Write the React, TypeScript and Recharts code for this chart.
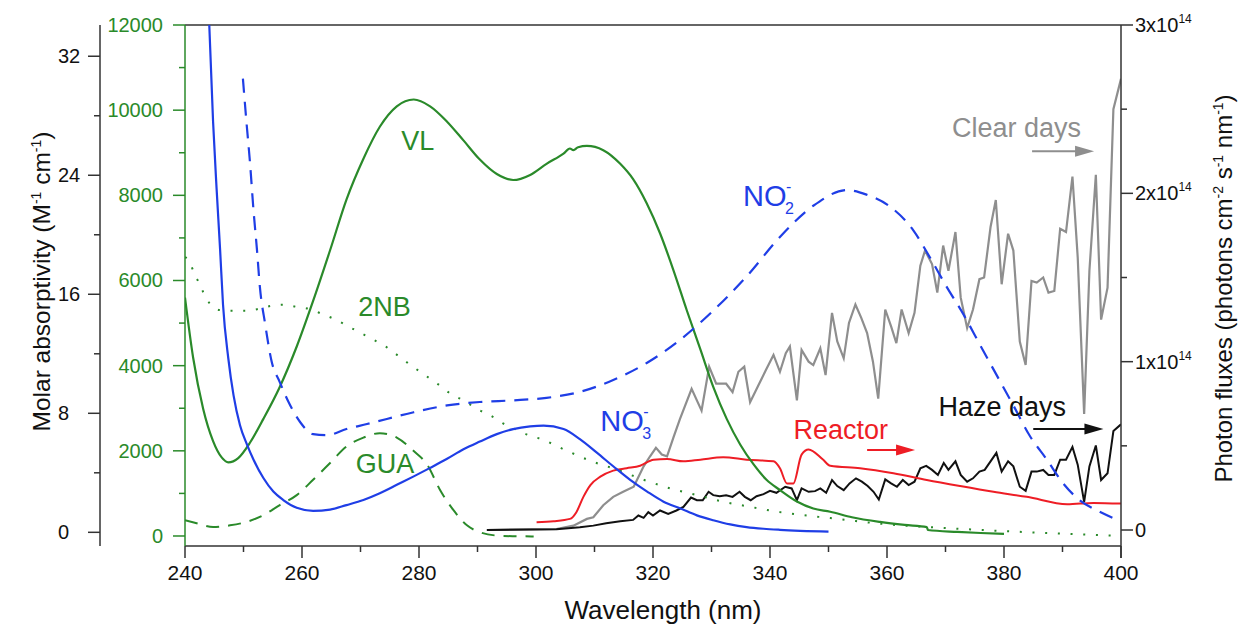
import React from 'react';
import { LineChart, Line, XAxis, YAxis, ReferenceLine, ReferenceDot } from 'recharts';

const FONT = '"Liberation Sans", Arial, Helvetica, sans-serif';
const GREEN = '#2a8a2a';
const BLUE = '#1f3ee6';
const RED = '#ee1d25';
const GRAY = '#8e8e8e';
const INK = '#111111';
const AXIS = '#333333';

// axis ids (the green one sits next to the plot, the black one further out)
const GREEN_AXIS = 'aGreen';
const ABS_AXIS = 'bAbs';
const FLUX_AXIS = 'cFlux';

// ticks
const wavelengthTicks = [240, 250, 260, 270, 280, 290, 300, 310, 320, 330, 340, 350, 360, 370, 380, 390, 400];
const absorptivityTicks = [0, 4, 8, 12, 16, 20, 24, 28, 32];
const greenTicks = [0, 1000, 2000, 3000, 4000, 5000, 6000, 7000, 8000, 9000, 10000, 11000, 12000];
const fluxTicks = [0, 0.5, 1, 1.5, 2, 2.5, 3];

type Pt = [number, number];

// molar absorptivity (green axis, M-1 cm-1)
const vl: Pt[] = [
  [240, 5600], [241.4, 4180], [243.1, 2990], [244.8, 2230], [246.3, 1840], [247.4, 1730], [249.1, 1830],
  [251.1, 2190], [253.4, 2750], [256.2, 3500], [259.1, 4450], [261.9, 5520], [264.8, 6710], [267.6, 7900],
  [270.5, 8860], [273.3, 9610], [276.2, 10090], [279.1, 10250], [281.9, 10090], [284.8, 9730], [287.6, 9290],
  [290.4, 8840], [293.3, 8500], [296.1, 8360], [299, 8480], [301.8, 8740], [304.7, 8980], [305.8, 9100],
  [306.4, 9060], [307.2, 9130], [308.7, 9160], [311.5, 9060], [314.4, 8740], [316.6, 8380], [318.9, 7820],
  [321.2, 7110], [323.5, 6240], [325.8, 5290], [328.1, 4380], [330.3, 3500], [332.6, 2750], [334.9, 2150],
  [337.2, 1680], [339.4, 1320], [341.7, 1080], [344.6, 810], [347.4, 645], [350.3, 570], [354, 440],
  [358.8, 330], [363, 260], [366.8, 210], [367, 140], [372, 95], [376, 70], [380, 50],
];
const gua: Pt[] = [
  [240, 370], [242, 300], [244.8, 210], [247.7, 250], [250.5, 330], [253.4, 490], [256.2, 725], [259.1, 960],
  [261.9, 1320], [264.8, 1715], [267.6, 2100], [270.5, 2310], [273.3, 2415], [276.2, 2310], [279.1, 1995],
  [281.4, 1675], [283.6, 1080], [285.9, 605], [288.2, 250], [290.4, 90], [293.3, 10], [296.1, -5], [299.6, -10],
];
const nb2: Pt[] = [
  [240, 6550], [240.6, 6480], [241.5, 6200], [242.6, 5880], [243.7, 5565], [245.9, 5305], [248, 5290],
  [250.3, 5290], [252.5, 5330], [254.7, 5405], [256.9, 5430], [259.1, 5380], [261.3, 5330], [263.5, 5210],
  [265.6, 5090], [267.8, 4930], [270, 4770], [272.2, 4610], [274.5, 4430], [276.6, 4215], [278.9, 3980],
  [281, 3780], [283.3, 3560], [285.4, 3340], [287.6, 3185], [289.9, 2985], [292.2, 2830], [294.3, 2650],
  [296.4, 2510], [298.7, 2370], [301, 2270], [305.3, 2000], [309.5, 1755], [313.8, 1560], [318.4, 1320],
  [322.9, 1120], [327.5, 960], [332, 805], [336.6, 685], [341.2, 570], [345.7, 490], [350.3, 420],
  [358.8, 290], [370.2, 185], [381.6, 105], [390, 55], [398.7, 10], [400, 5],
];

// molar absorptivity (black axis, M-1 cm-1)
const no3: Pt[] = [
  [244.1, 34.6], [244.8, 27.6], [245.4, 23.1], [246, 19.0], [246.5, 15.3], [247.4, 11.7], [248.3, 9.2],
  [249.4, 7.2], [250.6, 5.9], [251.7, 4.9], [253.4, 3.65], [255.1, 2.74], [256.8, 2.17], [259.1, 1.65],
  [261.9, 1.44], [264.8, 1.53], [267.6, 1.83], [270.5, 2.17], [273.3, 2.62], [276.2, 3.19], [279.1, 3.76],
  [281.9, 4.33], [284.8, 4.94], [287.6, 5.58], [290.4, 6.1], [293.3, 6.6], [296.1, 6.94], [299, 7.12],
  [301.3, 7.17], [304.7, 6.94], [307.5, 6.26], [310.4, 5.35], [313.2, 4.44], [316.1, 3.53], [319, 2.74],
  [321.8, 2.06], [324.7, 1.6], [327.5, 1.14], [330.3, 0.81], [333.2, 0.53], [336, 0.35], [338.9, 0.24],
  [341.7, 0.17], [350, 0.05],
];
const no2: Pt[] = [
  [249.9, 30.5], [250.5, 27.6], [251.1, 24.9], [251.7, 21.7], [252.3, 19.0], [252.8, 16.5], [253.7, 14.0],
  [254.8, 11.5], [256.2, 10.1], [257.7, 8.76], [259.7, 7.4], [261.9, 6.6], [264.2, 6.53], [267.6, 6.94],
  [271.1, 7.28], [274.5, 7.62], [279.1, 8.07], [284.8, 8.53], [290.4, 8.76], [296.1, 8.87], [301.8, 9.04],
  [307.5, 9.44], [313.2, 10.24], [319, 11.4], [324.7, 12.96], [330.3, 14.9], [336, 17.2], [341.7, 19.85],
  [347.4, 21.95], [353.1, 23.0], [356.5, 22.7], [360.5, 21.9], [364.5, 20.3], [367.3, 18.5], [370.2, 16.5],
  [373, 14.7], [375.9, 12.6], [378.7, 10.6], [381.6, 8.53], [384.4, 6.49], [387.3, 4.9], [390.1, 3.3],
  [392.9, 2.17], [395.8, 1.49], [399.3, 0.85],
];

// photon fluxes (x10^14 photons cm-2 s-1 nm-1)
const clearDays: Pt[] = [
  [291.6, 0.0], [303.5, 0.006], [306.4, 0.026], [308.7, 0.066], [309.8, 0.076], [311.5, 0.147], [313.2, 0.197],
  [314.9, 0.227], [316.7, 0.257], [318.4, 0.378], [319.5, 0.438], [320.5, 0.488], [321.5, 0.448], [322.4, 0.438],
  [323.5, 0.55], [324.6, 0.659], [326.6, 0.839], [328.3, 0.709], [329.6, 0.97], [330.8, 0.869], [332.5, 0.869],
  [333.6, 0.819], [334.6, 0.94], [335.6, 0.97], [336.6, 0.759], [338.0, 0.859], [339.3, 0.95], [340.6, 1.04],
  [341.7, 0.94], [342.7, 1.05], [343.4, 1.09], [344.6, 0.77], [345.4, 1.07], [346.6, 1.0], [347.4, 0.98],
  [348.6, 1.08], [349.5, 0.92], [350.6, 1.29], [351.5, 1.12], [352.6, 1.02], [353.5, 1.23], [354.6, 1.34],
  [355.6, 1.26], [356.6, 1.17], [357.6, 1.0], [358.5, 0.78], [359.7, 1.31], [360.7, 1.21], [361.6, 1.11],
  [362.5, 1.31], [363.7, 1.17], [364.7, 1.29], [365.7, 1.57], [366.5, 1.66], [367.7, 1.58], [368.6, 1.41],
  [369.6, 1.69], [370.5, 1.54], [371.7, 1.77], [372.6, 1.38], [373.7, 1.2], [374.7, 1.31], [375.8, 1.49],
  [376.6, 1.5], [377.7, 1.8], [378.6, 1.96], [379.6, 1.46], [380.7, 1.76], [381.6, 1.66], [382.7, 1.12],
  [383.7, 0.98], [384.7, 1.48], [385.6, 1.47], [386.7, 1.5], [387.6, 1.41], [388.6, 1.42], [389.6, 1.79],
  [390.6, 1.77], [391.7, 2.1], [392.6, 1.62], [393.7, 0.69], [394.6, 1.54], [395.7, 2.11], [396.6, 1.25],
  [397.7, 1.44], [398.7, 2.5], [400, 2.68],
];
const hazeDays: Pt[] = [
  [291.6, 0.0], [303.5, 0.004], [307.5, 0.016], [309.8, 0.026], [312, 0.04], [314.4, 0.052], [316.6, 0.06],
  [317.5, 0.086], [318.4, 0.072], [319.2, 0.106], [320, 0.086], [321.2, 0.116], [322.6, 0.096], [324, 0.116],
  [325.2, 0.137], [326.5, 0.193], [327.5, 0.177], [328.5, 0.177], [329.5, 0.227], [330.3, 0.207], [331.4, 0.201],
  [332.5, 0.207], [333.6, 0.197], [334.8, 0.227], [335.7, 0.197], [336.7, 0.177], [337.7, 0.201], [338.9, 0.213],
  [340, 0.233], [341.1, 0.221], [342.6, 0.257], [343.7, 0.247], [344.6, 0.177], [345.4, 0.247], [346.6, 0.227],
  [347.7, 0.231], [348.6, 0.247], [349.6, 0.221], [350.6, 0.297], [351.5, 0.261], [352.6, 0.237], [353.6, 0.277],
  [354.7, 0.307], [355.7, 0.287], [356.7, 0.261], [357.7, 0.227], [358.6, 0.181], [359.7, 0.301], [360.7, 0.277],
  [361.7, 0.257], [362.7, 0.297], [363.7, 0.267], [364.7, 0.287], [365.7, 0.367], [366.7, 0.381], [367.7, 0.357],
  [368.7, 0.327], [369.7, 0.398], [370.5, 0.357], [371.7, 0.408], [372.6, 0.327], [373.7, 0.287], [374.7, 0.307],
  [375.8, 0.347], [376.7, 0.357], [377.7, 0.408], [378.7, 0.458], [379.6, 0.347], [380.7, 0.408], [381.6, 0.378],
  [382.7, 0.257], [383.7, 0.233], [384.7, 0.347], [385.6, 0.347], [386.7, 0.357], [387.6, 0.327], [388.6, 0.327],
  [389.6, 0.418], [390.6, 0.418], [391.7, 0.494], [392.6, 0.388], [393.7, 0.167], [394.6, 0.378], [395.7, 0.502],
  [396.6, 0.297], [397.7, 0.337], [398.7, 0.588], [400, 0.628],
];
const reactor: Pt[] = [
  [300.1, 0.046], [303, 0.052], [305.8, 0.066], [306.9, 0.106], [308.1, 0.197], [309.3, 0.267], [311, 0.317],
  [313.2, 0.353], [315.5, 0.367], [317.8, 0.382], [320.1, 0.418], [322.4, 0.422], [325.2, 0.408], [328.1, 0.418],
  [332, 0.432], [336, 0.418], [340.6, 0.408], [341.7, 0.367], [342.9, 0.277], [344, 0.277], [345.4, 0.448],
  [346.6, 0.478], [349, 0.42], [350.3, 0.382], [355.4, 0.367], [361.1, 0.337], [366.8, 0.297], [372.5, 0.261],
  [378.2, 0.227], [383.9, 0.197], [390.8, 0.153], [395.3, 0.161], [400, 0.157],
];

const rows = (pts: Pt[]) => pts.map(([x, y]) => ({ x, y }));

// ---------- ticks ----------
const XTick = (p: any) => {
  const v = p.payload.value;
  const major = v % 20 === 0;
  return (
    <g>
      <line x1={p.x} y1={p.y} x2={p.x} y2={p.y + (major ? 12 : 6)} stroke={AXIS} strokeWidth={1.5} />
      {major && (
        <text x={p.x} y={p.y + 34} textAnchor="middle" fontSize={21} fontFamily={FONT} fill={INK}>{v}</text>
      )}
    </g>
  );
};
const AbsTick = (p: any) => {
  const v = p.payload.value;
  const major = v % 8 === 0;
  return (
    <g>
      <line x1={p.x - (major ? 12 : 6)} y1={p.y} x2={p.x} y2={p.y} stroke={AXIS} strokeWidth={1.5} />
      {major && (
        <text x={p.x - 42} y={p.y + 7} textAnchor="start" fontSize={20} fontFamily={FONT} fill={INK}>{v}</text>
      )}
    </g>
  );
};
const GreenTick = (p: any) => {
  const v = p.payload.value;
  const major = v % 2000 === 0;
  return (
    <g>
      <line x1={p.x - (major ? 12 : 6)} y1={p.y} x2={p.x} y2={p.y} stroke={GREEN} strokeWidth={1.5} />
      {major && (
        <text x={p.x - 22} y={p.y + 7} textAnchor="end" fontSize={20} fontFamily={FONT} fill={GREEN}>{v}</text>
      )}
    </g>
  );
};
const FluxTick = (p: any) => {
  const v = p.payload.value;
  const major = Number.isInteger(v);
  return (
    <g>
      <line x1={p.x} y1={p.y} x2={p.x + (major ? 12 : 6)} y2={p.y} stroke={AXIS} strokeWidth={1.5} />
      {major && (
        <text x={p.x + 14} y={p.y + 7} textAnchor="start" fontSize={20} fontFamily={FONT} fill={INK}>
          {v === 0 ? '0' : `${v}x10`}
          {v !== 0 && <tspan dy={-9} fontSize={12}>14</tspan>}
        </text>
      )}
    </g>
  );
};

// ---------- axis titles ----------
const LeftTitle = (props: any) => {
  const vb = props && props.viewBox && props.viewBox.height ? props.viewBox : { x: 0, y: 25, width: 100, height: 521 };
  const cx = vb.x + 50;
  const cy = vb.y + vb.height / 2 - 4;
  return (
    <text transform={`translate(${cx},${cy}) rotate(-90)`} textAnchor="middle" fontSize={24.5} fontFamily={FONT} fill={INK}>
      Molar absorptivity (M<tspan dy={-9} fontSize={14}>-1</tspan><tspan dy={9}> cm</tspan>
      <tspan dy={-9} fontSize={14}>-1</tspan><tspan dy={9}>)</tspan>
    </text>
  );
};
const RightTitle = (props: any) => {
  const vb = props && props.viewBox && props.viewBox.height ? props.viewBox : { x: 1121, y: 25, width: 122, height: 521 };
  const cx = vb.x + 111;
  const cy = vb.y + vb.height / 2 + 3;
  return (
    <text transform={`translate(${cx},${cy}) rotate(-90)`} textAnchor="middle" fontSize={24} fontFamily={FONT} fill={INK}>
      Photon fluxes (photons cm<tspan dy={-9} fontSize={14}>-2</tspan><tspan dy={9}> s</tspan>
      <tspan dy={-9} fontSize={14}>-1</tspan><tspan dy={9}> nm</tspan>
      <tspan dy={-9} fontSize={14}>-1</tspan><tspan dy={9}>)</tspan>
    </text>
  );
};
const XTitle = (props: any) => {
  const vb = props && props.viewBox && props.viewBox.width ? props.viewBox : { x: 185, y: 546, width: 936, height: 80 };
  return (
    <text x={vb.x + vb.width / 2 + 10} y={vb.y + 73} textAnchor="middle" fontSize={26} fontFamily={FONT} fill={INK}>
      Wavelength (nm)
    </text>
  );
};

// ---------- annotations ----------
const textShape = (label: string, color: string, anchor: 'start' | 'middle') => (p: any) => (
  <text x={p.cx} y={p.cy} fill={color} fontSize={27} fontFamily={FONT} textAnchor={anchor}>{label}</text>
);
const ionShape = (sub: string) => (p: any) => (
  <g>
    <text x={p.cx} y={p.cy} fill={BLUE} fontSize={29} fontFamily={FONT}>NO</text>
    <text x={p.cx + 42} y={p.cy + 8} fill={BLUE} fontSize={16} fontFamily={FONT}>{sub}</text>
    <text x={p.cx + 43} y={p.cy - 14} fill={BLUE} fontSize={16} fontFamily={FONT}>-</text>
  </g>
);
const arrowShape = (color: string) => (p: any) => {
  const { x1, y1, x2 } = p;
  return (
    <g>
      <line x1={x1} y1={y1} x2={x2 - 14} y2={y1} stroke={color} strokeWidth={2} />
      <polygon points={`${x2},${y1} ${x2 - 19},${y1 - 5.5} ${x2 - 19},${y1 + 5.5}`} fill={color} />
    </g>
  );
};

export default function App() {
  return (
    <div style={{ position: 'absolute', left: 0, top: 0, width: 1243, height: 626, background: '#ffffff' }}>
      <LineChart width={1243} height={626} margin={{ top: 25, right: 0, bottom: 0, left: 0 }}>
        <XAxis
          type="number"
          dataKey="x"
          domain={[240, 400]}
          ticks={wavelengthTicks}
          interval={0}
          allowDataOverflow
          height={80}
          tickSize={0}
          tickMargin={0}
          tickLine={false}
          tick={<XTick />}
          axisLine={{ stroke: AXIS, strokeWidth: 1.5 }}
          label={(p: any) => <XTitle {...p} />}
        />
        <YAxis
          yAxisId={GREEN_AXIS}
          orientation="left"
          width={85}
          domain={[-235, 12000]}
          ticks={greenTicks}
          interval={0}
          allowDataOverflow
          tickSize={0}
          tickMargin={0}
          tickLine={false}
          tick={<GreenTick />}
          axisLine={{ stroke: GREEN, strokeWidth: 1.5 }}
        />
        <YAxis
          yAxisId={ABS_AXIS}
          orientation="left"
          width={100}
          domain={[-0.92, 34.1]}
          ticks={absorptivityTicks}
          interval={0}
          allowDataOverflow
          tickSize={0}
          tickMargin={0}
          tickLine={false}
          tick={<AbsTick />}
          axisLine={{ stroke: AXIS, strokeWidth: 1.5 }}
          label={(p: any) => <LeftTitle {...p} />}
        />
        <YAxis
          yAxisId={FLUX_AXIS}
          orientation="right"
          width={122}
          domain={[-0.095, 3]}
          ticks={fluxTicks}
          interval={0}
          allowDataOverflow
          tickSize={0}
          tickMargin={0}
          tickLine={false}
          tick={<FluxTick />}
          axisLine={{ stroke: AXIS, strokeWidth: 1.5 }}
          label={(p: any) => <RightTitle {...p} />}
        />

        <ReferenceLine yAxisId={FLUX_AXIS} y={3} stroke={AXIS} strokeWidth={1.5} />
        <ReferenceLine
          yAxisId={FLUX_AXIS}
          segment={[{ x: 400, y: -0.095 }, { x: 400, y: -0.166 }]}
          ifOverflow="visible"
          stroke={AXIS}
          strokeWidth={1.5}
        />

        <Line yAxisId={FLUX_AXIS} data={rows(clearDays)} dataKey="y" type="linear" stroke={GRAY} strokeWidth={2.2} dot={false} activeDot={false} isAnimationActive={false} />
        <Line yAxisId={FLUX_AXIS} data={rows(hazeDays)} dataKey="y" type="linear" stroke={INK} strokeWidth={2} dot={false} activeDot={false} isAnimationActive={false} />
        <Line yAxisId={FLUX_AXIS} data={rows(reactor)} dataKey="y" type="monotone" stroke={RED} strokeWidth={2} dot={false} activeDot={false} isAnimationActive={false} />
        <Line yAxisId={GREEN_AXIS} data={rows(nb2)} dataKey="y" type="monotone" stroke={GREEN} strokeWidth={2} strokeDasharray="2 10.7" dot={false} activeDot={false} isAnimationActive={false} />
        <Line yAxisId={GREEN_AXIS} data={rows(gua)} dataKey="y" type="monotone" stroke={GREEN} strokeWidth={2} strokeDasharray="13 9" dot={false} activeDot={false} isAnimationActive={false} />
        <Line yAxisId={GREEN_AXIS} data={rows(vl)} dataKey="y" type="monotone" stroke={GREEN} strokeWidth={2.2} dot={false} activeDot={false} isAnimationActive={false} />
        <Line yAxisId={ABS_AXIS} data={rows(no2)} dataKey="y" type="monotone" stroke={BLUE} strokeWidth={2.2} strokeDasharray="14 9" dot={false} activeDot={false} isAnimationActive={false} />
        <Line yAxisId={ABS_AXIS} data={rows(no3)} dataKey="y" type="monotone" stroke={BLUE} strokeWidth={2.2} dot={false} activeDot={false} isAnimationActive={false} />

        <ReferenceDot yAxisId={GREEN_AXIS} x={279.8} y={9060} r={0} ifOverflow="visible" shape={textShape('VL', GREEN, 'middle')} />
        <ReferenceDot yAxisId={GREEN_AXIS} x={274.1} y={5170} r={0} ifOverflow="visible" shape={textShape('2NB', GREEN, 'middle')} />
        <ReferenceDot yAxisId={GREEN_AXIS} x={274.2} y={1480} r={0} ifOverflow="visible" shape={textShape('GUA', GREEN, 'middle')} />
        <ReferenceDot yAxisId={ABS_AXIS} x={311} y={6.83} r={0} ifOverflow="visible" shape={ionShape('3')} />
        <ReferenceDot yAxisId={ABS_AXIS} x={335.4} y={21.94} r={0} ifOverflow="visible" shape={ionShape('2')} />
        <ReferenceDot yAxisId={FLUX_AXIS} x={371.1} y={2.337} r={0} ifOverflow="visible" shape={textShape('Clear days', GRAY, 'start')} />
        <ReferenceDot yAxisId={FLUX_AXIS} x={368.8} y={0.68} r={0} ifOverflow="visible" shape={textShape('Haze days', INK, 'start')} />
        <ReferenceDot yAxisId={FLUX_AXIS} x={344.0} y={0.541} r={0} ifOverflow="visible" shape={textShape('Reactor', RED, 'start')} />

        <ReferenceLine yAxisId={FLUX_AXIS} segment={[{ x: 384.8, y: 2.25 }, { x: 395.4, y: 2.25 }]} ifOverflow="visible" shape={arrowShape(GRAY)} />
        <ReferenceLine yAxisId={FLUX_AXIS} segment={[{ x: 385.0, y: 0.6 }, { x: 397.0, y: 0.6 }]} ifOverflow="visible" shape={arrowShape(INK)} />
        <ReferenceLine yAxisId={FLUX_AXIS} segment={[{ x: 356.6, y: 0.475 }, { x: 364.8, y: 0.475 }]} ifOverflow="visible" shape={arrowShape(RED)} />
      </LineChart>
    </div>
  );
}
